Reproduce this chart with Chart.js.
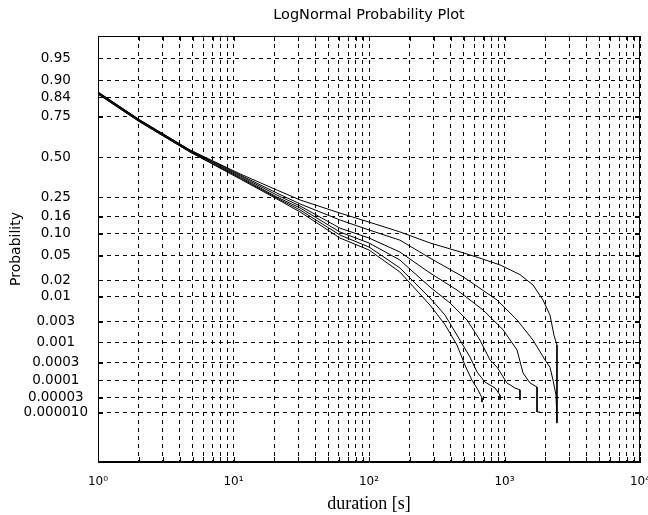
<!DOCTYPE html>
<html>
<head>
<meta charset="utf-8">
<script src="https://cdn.jsdelivr.net/npm/chart.js@4.4.1/dist/chart.umd.min.js"></script>
<style>
  html, body { margin: 0; padding: 0; background: #fff; }
</style>
</head>
<body>
<canvas id="myChart" width="648" height="515"></canvas>
<script>
// probability axis ticks
const probTicks = [0.95, 0.90, 0.84, 0.75, 0.50, 0.25, 0.16, 0.10, 0.05, 0.02, 0.01, 0.003, 0.001, 0.0003, 0.0001, 0.00003, 0.00001];
const probLabels = ['0.95', '0.90', '0.84', '0.75', '0.50', '0.25', '0.16', '0.10', '0.05', '0.02', '0.01', '0.003', '0.001', '0.0003', '0.0001', '0.00003', '0.000010'];
const decadeLabels = ['10\u2070', '10\u00b9', '10\u00b2', '10\u00b3', '10\u2074'];

// curves: duration [s] and probability
const dur1 = [1, 2.04, 4.78, 11.2, 20.9, 31, 61, 100, 169, 282, 469, 659, 927, 1300, 1623, 1923, 2167, 2317, 2438, 2438];
const prob1 = [0.861, 0.731, 0.546, 0.389, 0.291, 0.237, 0.175, 0.139, 0.106, 0.076, 0.057, 0.046, 0.036, 0.025, 0.0165, 0.0086, 0.0042, 0.0015, 0.00086, 0.0000046];

const dur2 = [1, 2.04, 4.78, 11.2, 20.9, 31, 61, 100, 169, 282, 494, 881, 1237, 1623, 1990, 2167, 2280, 2399, 2438];
const prob2 = [0.860, 0.731, 0.546, 0.382, 0.274, 0.217, 0.147, 0.112, 0.083, 0.046, 0.023, 0.0086, 0.0033, 0.00114, 0.00036, 0.00023, 0.00010, 0.000036, 0.0000058];

const dur3 = [1, 2.04, 4.78, 11.2, 20.9, 31, 61, 100, 169, 282, 446, 694, 975, 1237, 1370, 1542, 1738, 1738, 1828];
const prob3 = [0.857, 0.726, 0.540, 0.376, 0.263, 0.207, 0.118, 0.0885, 0.0567, 0.0266, 0.0133, 0.0054, 0.0020, 0.00065, 0.00016, 0.000083, 0.000063, 0.0000107, 0.0000107];

const dur4 = [1, 2.04, 4.78, 11.2, 20.9, 31, 61, 100, 169, 282, 396, 529, 659, 781, 881, 1043, 1195, 1300, 1300];
const prob4 = [0.857, 0.726, 0.540, 0.369, 0.2525, 0.198, 0.1056, 0.0759, 0.043, 0.0151, 0.0075, 0.0033, 0.00114, 0.00036, 0.00023, 0.000083, 0.000059, 0.000052, 0.000026];

const dur5 = [1, 2.04, 4.78, 11.2, 20.9, 31, 61, 100, 169, 282, 364, 469, 556, 627, 718, 851, 927, 927];
const prob5 = [0.853, 0.720, 0.533, 0.363, 0.247, 0.1885, 0.0968, 0.0668, 0.0322, 0.0094, 0.0042, 0.00114, 0.00043, 0.00017, 0.000088, 0.000059, 0.000036, 0.000026];

const dur6 = [1, 2.04, 4.78, 11.2, 20.9, 31, 61, 100, 169, 282, 364, 446, 511, 575, 637, 682, 682];
const prob6 = [0.853, 0.720, 0.533, 0.357, 0.242, 0.180, 0.0885, 0.0606, 0.0276, 0.0068, 0.0026, 0.00086, 0.00026, 0.00010, 0.000052, 0.000030, 0.000022];

//inverse normal cdf (Acklam)
function probit(p) {
  const a = [-3.969683028665376e+01, 2.209460984245205e+02, -2.759285104469687e+02, 1.383577518672690e+02, -3.066479806614716e+01, 2.506628277459239e+00];
  const b = [-5.447609879822406e+01, 1.615858368580409e+02, -1.556989798598866e+02, 6.680131188771972e+01, -1.328068155288572e+01];
  const c = [-7.784894002430293e-03, -3.223964580411365e-01, -2.400758277161838e+00, -2.549732539343734e+00, 4.374664141464968e+00, 2.938163982698783e+00];
  const d = [7.784695709041462e-03, 3.224671290700398e-01, 2.445134137142996e+00, 3.754408661907416e+00];
  const pl = 0.02425;
  let q, r;
  if (p < pl) {
    q = Math.sqrt(-2 * Math.log(p));
    return (((((c[0]*q+c[1])*q+c[2])*q+c[3])*q+c[4])*q+c[5]) / ((((d[0]*q+d[1])*q+d[2])*q+d[3])*q+1);
  }
  if (p <= 1 - pl) {
    q = p - 0.5; r = q * q;
    return (((((a[0]*r+a[1])*r+a[2])*r+a[3])*r+a[4])*r+a[5])*q / (((((b[0]*r+b[1])*r+b[2])*r+b[3])*r+b[4])*r+1);
  }
  q = Math.sqrt(-2 * Math.log(1 - p));
  return -(((((c[0]*q+c[1])*q+c[2])*q+c[3])*q+c[4])*q+c[5]) / ((((d[0]*q+d[1])*q+d[2])*q+d[3])*q+1);
}

function makeSeries(durs, probs) {
  return {
    data: durs.map((x, i) => ({ x: x, y: probit(probs[i]) })),
    borderColor: '#000',
    borderWidth: 1,
    pointRadius: 0,
    fill: false,
    tension: 0
  };
}

// inward tick marks + box frame
const frameTicks = {
  id: 'frameTicks',
  afterDraw(chart) {
    const { ctx, chartArea: a, scales } = chart;
    ctx.save();
    ctx.strokeStyle = '#000';
    ctx.lineWidth = 1;
    ctx.setLineDash([]);
    ctx.beginPath();
    scales.x.ticks.forEach(t => {
      const px = Math.round(scales.x.getPixelForValue(t.value)) + 0.5;
      ctx.moveTo(px, a.top); ctx.lineTo(px, a.top + 5);
      ctx.moveTo(px, a.bottom); ctx.lineTo(px, a.bottom - 5);
    });
    scales.y.ticks.forEach(t => {
      const py = Math.round(scales.y.getPixelForValue(t.value)) + 0.5;
      ctx.moveTo(a.left, py); ctx.lineTo(a.left + 5, py);
      ctx.moveTo(a.right, py); ctx.lineTo(a.right - 5, py);
    });
    ctx.stroke();
    ctx.strokeRect(Math.round(a.left) + 0.5, Math.round(a.top) + 0.5, Math.round(a.width) - 1, Math.round(a.height) - 1);
    ctx.restore();
  }
};

const ctx = document.getElementById('myChart');

new Chart(ctx, {
  type: 'line',
  data: {
    datasets: [
      makeSeries(dur1, prob1),
      makeSeries(dur2, prob2),
      makeSeries(dur3, prob3),
      makeSeries(dur4, prob4),
      makeSeries(dur5, prob5),
      makeSeries(dur6, prob6)
    ]
  },
  plugins: [frameTicks],
  options: {
    responsive: false,
    animation: false,
    events: [],
    layout: { padding: 0 },
    plugins: {
      legend: { display: false },
      tooltip: { enabled: false },
      title: { display: false }
    },
    scales: {
      x: {
        type: 'logarithmic',
        min: 1,
        max: 10000,
        afterBuildTicks: scale => {
          const t = [];
          for (let e = 0; e < 4; e++) {
            for (let m = 1; m < 10; m++) t.push({ value: m * Math.pow(10, e), major: m === 1 });
          }
          t.push({ value: 10000, major: true });
          scale.ticks = t;
        },
        afterFit: scale => {
          scale.height = 53;
          scale.paddingLeft = 0;
          scale.paddingRight = 8;
        },
        ticks: {
          autoSkip: false,
          maxRotation: 0,
          padding: 13,
          color: '#000',
          font: { family: 'DejaVu Sans', size: 12 },
          callback: function (value) {
            const e = Math.log10(value);
            if (Math.abs(e - Math.round(e)) < 1e-9) return decadeLabels[Math.round(e)];
            return '';
          }
        },
        grid: { color: '#000', lineWidth: 1, drawTicks: false },
        border: { display: true, color: '#000', width: 1, dash: [4, 4] },
        title: {
          display: true,
          text: 'duration [s]',
          color: '#000',
          font: { family: 'Liberation Serif', size: 18 },
          padding: { top: 0, bottom: 0 }
        }
      },
      // top axis only carries the chart title, centred over the plot
      top: {
        type: 'linear',
        position: 'top',
        afterFit: scale => { scale.height = 36; },
        grid: { display: false },
        ticks: { display: false },
        border: { display: false },
        title: {
          display: true,
          text: 'LogNormal Probability Plot',
          color: '#000',
          font: { family: 'DejaVu Sans', size: 14.5 },
          padding: { top: 7, bottom: 0 }
        }
      },
      y: {
        type: 'linear',
        min: (157 - 462) / 60,
        max: (157 - 36) / 60,
        afterBuildTicks: scale => {
          scale.ticks = probTicks.map(p => ({ value: probit(p) }));
        },
        afterFit: scale => { scale.width = 98; },
        ticks: {
          autoSkip: false,
          crossAlign: 'center',
          padding: 10,
          color: '#000',
          font: { family: 'DejaVu Sans', size: 13.5 },
          callback: (value, index) => probLabels[index]
        },
        grid: { color: '#000', lineWidth: 1, drawTicks: false },
        border: { display: true, color: '#000', width: 1, dash: [4, 4] },
        title: {
          display: true,
          text: 'Probability',
          color: '#000',
          font: { family: 'DejaVu Sans', size: 14 },
          padding: { top: 8, bottom: 0 }
        }
      }
    }
  }
});
</script>
</body>
</html>
